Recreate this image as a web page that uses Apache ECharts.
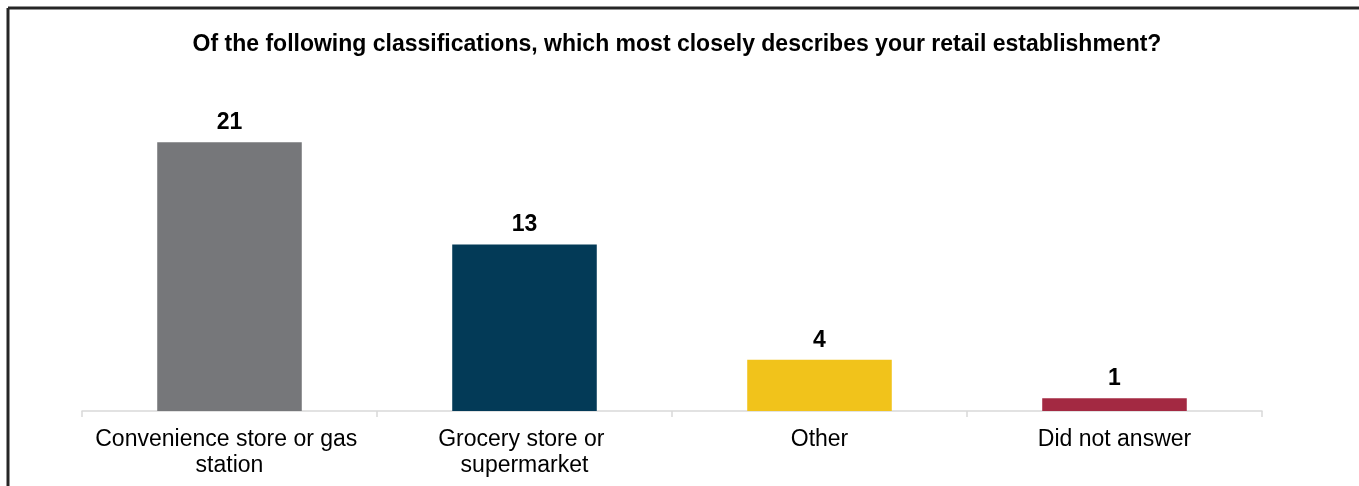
<!DOCTYPE html>
<html>
<head>
<meta charset="utf-8">
<script src="https://cdn.jsdelivr.net/npm/echarts@6/dist/echarts.min.js"></script>
<style>
  html, body { margin: 0; padding: 0; background: #ffffff; }
  #chart { width: 1359px; height: 486px; }
</style>
</head>
<body>
<div id="chart"></div>
<script>
// Survey responses by retail establishment type
const categories = [
  'Convenience store or gas station',
  'Grocery store or supermarket',
  'Other',
  'Did not answer'
];
const counts = [21, 13, 4, 1];
const barColors = ['#76777a', '#033a57', '#f1c31b', '#a32942'];
const titleText = 'Of the following classifications, which most closely describes your retail establishment?';

const chart = echarts.init(document.getElementById('chart'), null, { renderer: 'canvas' });

const FONT = '"Liberation Sans", Arial, sans-serif';

chart.setOption({
  animation: false,
  backgroundColor: '#ffffff',
  title: {
    text: titleText,
    left: 672,
    top: 28,
    textAlign: 'center',
    textStyle: { fontFamily: FONT, fontSize: 23, fontWeight: 'bold', color: '#000000' }
  },
  // outer frame: top rule and left rule
  graphic: [
    { type: 'line', shape: { x1: 8, y1: 8, x2: 1359, y2: 8 }, style: { stroke: '#262626', lineWidth: 3 } },
    { type: 'line', shape: { x1: 8, y1: 8, x2: 8, y2: 486 }, style: { stroke: '#262626', lineWidth: 3 } }
  ],
  grid: { left: 82, right: 97, top: 91, bottom: 75, containLabel: false },
  xAxis: {
    type: 'category',
    data: categories,
    axisLine: { show: true, lineStyle: { color: '#d9d9d9', width: 1.5 } },
    axisTick: { show: true, alignWithLabel: false, length: 6, lineStyle: { color: '#d9d9d9', width: 1.5 } },
    axisLabel: {
      margin: 16,
      fontFamily: FONT,
      fontSize: 23,
      lineHeight: 26,
      color: '#000000',
      width: 280,
      overflow: 'break',
      interval: 0
    }
  },
  yAxis: {
    type: 'value',
    min: 0,
    max: 25,
    show: false,
    splitLine: { show: false }
  },
  series: [{
    type: 'bar',
    data: counts.map((v, i) => ({ value: v, itemStyle: { color: barColors[i] } })),
    barWidth: '49%',
    label: {
      show: true,
      position: 'top',
      distance: 8,
      fontFamily: FONT,
      fontSize: 23,
      fontWeight: 'bold',
      color: '#000000'
    }
  }]
});
</script>
</body>
</html>
